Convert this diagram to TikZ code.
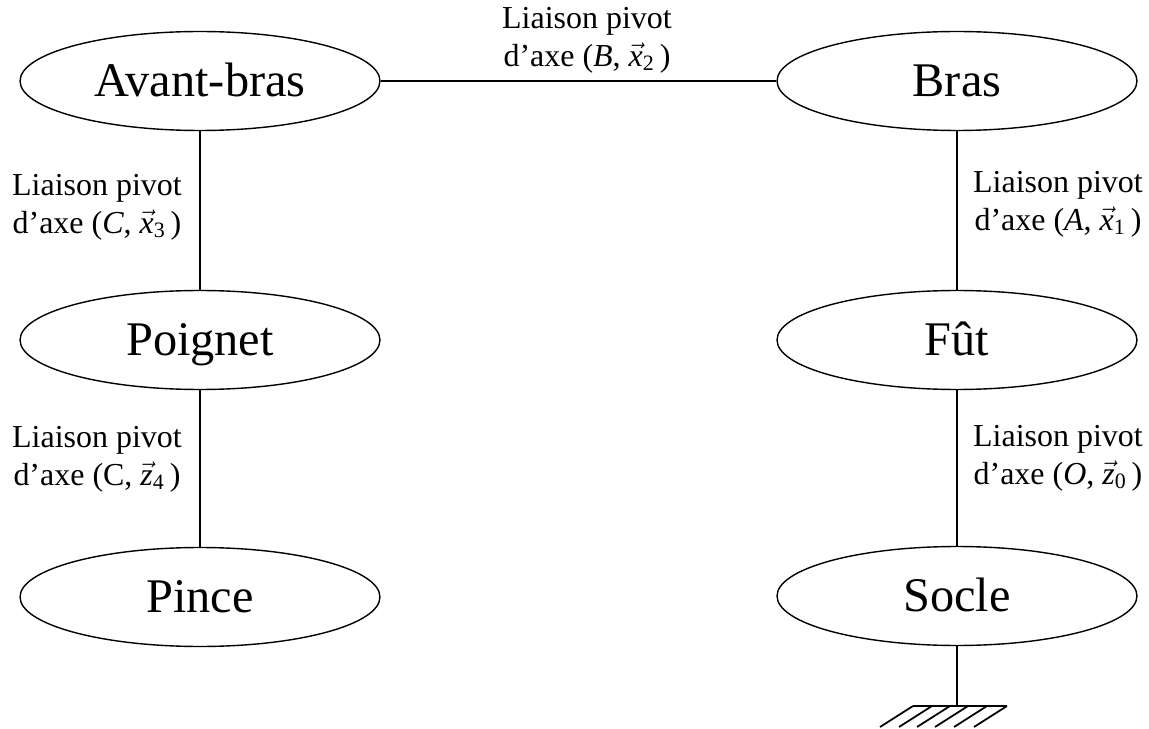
\documentclass[tikz,border=0pt]{standalone}
\usepackage{fontspec}
\setmainfont{Liberation Serif}
\usetikzlibrary{shapes.geometric}

\newcommand{\vectxt}[2]{$\vec{\mbox{\itshape #1}}_{\mbox{\fontsize{12.5}{12.5}\selectfont #2}}\,$}

\tikzset{
  piece/.style={ellipse, draw, line width=0.8pt, minimum width=7.2cm, minimum height=1.98cm,
    inner sep=0pt, text height=18pt, text depth=0pt, font=\fontsize{27.5}{30}\selectfont},
  liaison/.style={align=center, font=\fontsize{18.2}{21.8}\selectfont},
  link/.style={line width=1pt}
}

\begin{document}
\begin{tikzpicture}[x=0.02cm, y=-0.02cm]
    \useasboundingbox (0,0) rectangle (1149,729);

    % Draw the parts
    \node[piece] (avantbras) at (200,81) {Avant-bras};
    \node[piece] (bras) at (957,81) {Bras};
    \node[piece] (poignet) at (200,340) {Poignet};
    \node[piece] (fut) at (957,340) {Fût};
    \node[piece] (pince) at (200,597) {Pince};
    \node[piece] (socle) at (957,596) {Socle};

    % Draw the joints between the parts
    \draw[link] (avantbras.east) -- (bras.west);
    \draw[link] (avantbras.south) -- (poignet.north);
    \draw[link] (poignet.south) -- (pince.north);
    \draw[link] (bras.south) -- (fut.north);
    \draw[link] (fut.south) -- (socle.north);

    % Label the joints
    \node[liaison] (lienB) at (587,40) {Liaison pivot\\d’axe ($\mbox{\itshape B}$, \vectxt{x}{2})};
    \node[liaison] (lienC) at (97,207) {Liaison pivot\\d’axe ($\mbox{\itshape C}$, \vectxt{x}{3})};
    \node[liaison] (lienP) at (97,459) {Liaison pivot\\d’axe (C, \vectxt{z}{4})};
    \node[liaison] (lienA) at (1058,204) {Liaison pivot\\d’axe ($\mbox{\itshape A}$, \vectxt{x}{1})};
    \node[liaison] (lienO) at (1058,458) {Liaison pivot\\d’axe ($\mbox{\itshape O}$, \vectxt{z}{0})};

    % Draw the ground under the base
    \coordinate (sol) at (957,706);
    \draw[link] (socle.south) -- (sol);
    \draw[line width=1.6pt] (913,706) -- (1007,706);
    \foreach \x in {913,932,950,968,987,1007}
      \draw[line width=1pt] (\x,706) -- ++(-33,21);
\end{tikzpicture}
\end{document}
